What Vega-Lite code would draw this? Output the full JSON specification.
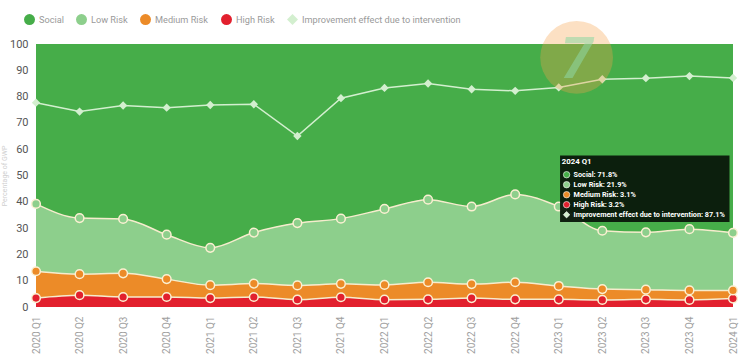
{
  "$schema": "https://vega.github.io/schema/vega-lite/v6.json",
  "width": 697,
  "height": 263,
  "autosize": {"type": "none"},
  "padding": {"left": 36, "top": 44, "right": 17, "bottom": 49},
  "background": "white",
  "config": {
    "view": {"stroke": null},
    "font": "Roboto",
    "axisX": {
      "tickCount": 16,
      "labelExpr": "['2020 Q1','2020 Q2','2020 Q3','2020 Q4','2021 Q1','2021 Q2','2021 Q3','2021 Q4','2022 Q1','2022 Q2','2022 Q3','2022 Q4','2023 Q1','2023 Q2','2023 Q3','2023 Q4','2024 Q1'][datum.value]",
      "labelAngle": 270,
      "labelColor": "#a0a0a0",
      "labelFontSize": 10,
      "labelPadding": 9,
      "domain": false,
      "ticks": false,
      "grid": true,
      "gridColor": "#ffffff",
      "gridOpacity": 0.1,
      "zindex": 1
    },
    "axisY": {
      "tickCount": 10,
      "titleFontSize": 7,
      "titleFontWeight": "normal",
      "titleColor": "#cfcfcf",
      "titlePadding": 2,
      "labelColor": "#555555",
      "labelFontSize": 11,
      "labelPadding": 8,
      "domain": false,
      "ticks": false,
      "grid": true,
      "gridColor": "#ffffff",
      "gridOpacity": 0.1,
      "zindex": 1
    },
    "legend": {
      "orient": "none",
      "legendX": -12,
      "legendY": -30,
      "direction": "horizontal",
      "columns": 5,
      "symbolSize": 120,
      "symbolStrokeWidth": 0,
      "labelFont": "Roboto",
      "labelFontSize": 9.2,
      "labelColor": "#9a9a9a",
      "labelOffset": 4,
      "labelLimit": 300,
      "columnPadding": 12
    }
  },
  "datasets": {
    "quarters": [
      {"i": 0, "q": "2020 Q1", "High Risk": 3.4, "Medium Risk": 10.2, "Low Risk": 25.6, "Social": 60.8, "Improvement": 77.7},
      {"i": 1, "q": "2020 Q2", "High Risk": 4.5, "Medium Risk": 8.0, "Low Risk": 21.3, "Social": 66.2, "Improvement": 74.3},
      {"i": 2, "q": "2020 Q3", "High Risk": 3.8, "Medium Risk": 9.0, "Low Risk": 20.7, "Social": 66.5, "Improvement": 76.6},
      {"i": 3, "q": "2020 Q4", "High Risk": 3.8, "Medium Risk": 6.8, "Low Risk": 16.9, "Social": 72.5, "Improvement": 75.8},
      {"i": 4, "q": "2021 Q1", "High Risk": 3.4, "Medium Risk": 4.9, "Low Risk": 14.2, "Social": 77.5, "Improvement": 76.8},
      {"i": 5, "q": "2021 Q2", "High Risk": 3.8, "Medium Risk": 5.1, "Low Risk": 19.4, "Social": 71.7, "Improvement": 77.1},
      {"i": 6, "q": "2021 Q3", "High Risk": 2.8, "Medium Risk": 5.4, "Low Risk": 23.7, "Social": 68.1, "Improvement": 65.0},
      {"i": 7, "q": "2021 Q4", "High Risk": 3.7, "Medium Risk": 5.1, "Low Risk": 24.8, "Social": 66.4, "Improvement": 79.4},
      {"i": 8, "q": "2022 Q1", "High Risk": 2.8, "Medium Risk": 5.6, "Low Risk": 28.9, "Social": 62.7, "Improvement": 83.3},
      {"i": 9, "q": "2022 Q2", "High Risk": 2.9, "Medium Risk": 6.5, "Low Risk": 31.4, "Social": 59.2, "Improvement": 85.0},
      {"i": 10, "q": "2022 Q3", "High Risk": 3.4, "Medium Risk": 5.3, "Low Risk": 29.5, "Social": 61.8, "Improvement": 82.8},
      {"i": 11, "q": "2022 Q4", "High Risk": 2.9, "Medium Risk": 6.5, "Low Risk": 33.4, "Social": 57.2, "Improvement": 82.2},
      {"i": 12, "q": "2023 Q1", "High Risk": 2.9, "Medium Risk": 5.1, "Low Risk": 30.2, "Social": 61.8, "Improvement": 83.5},
      {"i": 13, "q": "2023 Q2", "High Risk": 2.7, "Medium Risk": 4.1, "Low Risk": 22.2, "Social": 71.0, "Improvement": 86.6},
      {"i": 14, "q": "2023 Q3", "High Risk": 2.9, "Medium Risk": 3.7, "Low Risk": 21.8, "Social": 71.6, "Improvement": 87.0},
      {"i": 15, "q": "2023 Q4", "High Risk": 2.7, "Medium Risk": 3.6, "Low Risk": 23.3, "Social": 70.4, "Improvement": 87.8},
      {"i": 16, "q": "2024 Q1", "High Risk": 3.2, "Medium Risk": 3.1, "Low Risk": 21.9, "Social": 71.8, "Improvement": 87.1}
    ],
    "tip": [
      {"series": "Social", "label": "Social: 71.8%"},
      {"series": "Low Risk", "label": "Low Risk: 21.9%"},
      {"series": "Medium Risk", "label": "Medium Risk: 3.1%"},
      {"series": "High Risk", "label": "High Risk: 3.2%"},
      {"series": "Improvement effect due to intervention", "label": "Improvement effect due to intervention: 87.1%"}
    ]
  },
  "layer": [
    {
      "data": {"name": "quarters"},
      "transform": [
        {"fold": ["High Risk", "Medium Risk", "Low Risk", "Social"], "as": ["series", "value"]},
        {"calculate": "indexof(['High Risk','Medium Risk','Low Risk','Social'], datum.series)", "as": "ord"},
        {"stack": "value", "groupby": ["i"], "sort": [{"field": "ord", "order": "ascending"}], "as": ["y0", "y1"]}
      ],
      "mark": {"type": "area", "interpolate": "monotone", "clip": true},
      "encoding": {
        "x": {"field": "i", "type": "quantitative", "title": null, "scale": {"domain": [0, 16], "nice": false, "zero": false}},
        "y": {"field": "y1", "type": "quantitative", "title": "Percentage of GWP", "scale": {"domain": [0, 100], "nice": false}},
        "y2": {"field": "y0"},
        "color": {
          "field": "series",
          "type": "nominal",
          "title": null,
          "scale": {
            "domain": ["Social", "Low Risk", "Medium Risk", "High Risk", "Improvement effect due to intervention"],
            "range": ["#46ad49", "#8dcf8c", "#ec8b28", "#e2202e", "#d3efcf"]
          }
        }
      }
    },
    {
      "data": {"name": "quarters"},
      "transform": [
        {"fold": ["High Risk", "Medium Risk", "Low Risk"], "as": ["series", "value"]},
        {"calculate": "indexof(['High Risk','Medium Risk','Low Risk'], datum.series)", "as": "ord"},
        {"stack": "value", "groupby": ["i"], "sort": [{"field": "ord", "order": "ascending"}], "as": ["y0", "y1"]}
      ],
      "mark": {"type": "line", "interpolate": "monotone", "stroke": "#f6eccd", "strokeWidth": 1.5},
      "encoding": {
        "x": {"field": "i", "type": "quantitative", "title": null},
        "y": {"field": "y1", "type": "quantitative", "title": "Percentage of GWP"},
        "detail": {"field": "series"}
      }
    },
    {
      "data": {"name": "quarters"},
      "transform": [
        {"fold": ["High Risk", "Medium Risk", "Low Risk"], "as": ["series", "value"]},
        {"calculate": "indexof(['High Risk','Medium Risk','Low Risk'], datum.series)", "as": "ord"},
        {"stack": "value", "groupby": ["i"], "sort": [{"field": "ord", "order": "ascending"}], "as": ["y0", "y1"]}
      ],
      "mark": {"type": "point", "filled": true, "size": 75, "stroke": "#fbf0d2", "strokeWidth": 1.5, "opacity": 1},
      "encoding": {
        "x": {"field": "i", "type": "quantitative", "title": null},
        "y": {"field": "y1", "type": "quantitative", "title": "Percentage of GWP"},
        "color": {"field": "series", "type": "nominal", "title": null},
        "shape": {
          "field": "series",
          "type": "nominal",
          "title": null,
          "scale": {
            "domain": ["Social", "Low Risk", "Medium Risk", "High Risk", "Improvement effect due to intervention"],
            "range": ["circle", "circle", "circle", "circle", "diamond"]
          }
        }
      }
    },
    {
      "data": {"name": "quarters"},
      "mark": {"type": "line", "color": "#d3efcf", "strokeWidth": 1.5},
      "encoding": {
        "x": {"field": "i", "type": "quantitative", "title": null},
        "y": {"field": "Improvement", "type": "quantitative", "title": "Percentage of GWP"}
      }
    },
    {
      "data": {"name": "quarters"},
      "mark": {"type": "point", "filled": true, "size": 70, "shape": "diamond", "color": "#d3efcf", "opacity": 1},
      "encoding": {
        "x": {"field": "i", "type": "quantitative", "title": null},
        "y": {"field": "Improvement", "type": "quantitative", "title": "Percentage of GWP"}
      }
    },
    {
      "data": {"values": [{"a": 1}]},
      "mark": {"type": "point", "filled": true, "size": 5300, "color": "#f5a04a", "opacity": 0.33, "clip": false},
      "encoding": {
        "x": {"datum": 12.41, "type": "quantitative", "title": null},
        "y": {"datum": 94.9, "type": "quantitative", "title": "Percentage of GWP"}
      }
    },
    {
      "data": {"values": [{"a": 1}]},
      "mark": {"type": "text", "text": "7", "fontSize": 58, "fontWeight": "bold", "fontStyle": "italic", "color": "#8fd8a4", "opacity": 0.55, "align": "center", "baseline": "middle"},
      "encoding": {
        "x": {"datum": 12.41, "type": "quantitative", "title": null},
        "y": {"datum": 93.5, "type": "quantitative", "title": "Percentage of GWP"}
      }
    },
    {
      "data": {"values": [{"a": 1}]},
      "mark": {"type": "rect", "color": "#0a170b", "opacity": 0.95},
      "encoding": {
        "x": {"datum": 12.03, "type": "quantitative", "title": null},
        "x2": {"datum": 15.92},
        "y": {"datum": 57.6, "type": "quantitative", "title": "Percentage of GWP"},
        "y2": {"datum": 32.3}
      }
    },
    {
      "data": {"values": [{"a": 1}]},
      "mark": {"type": "text", "text": "2024 Q1", "align": "left", "baseline": "middle", "color": "white", "fontSize": 7.8, "fontWeight": "bold"},
      "encoding": {
        "x": {"datum": 12.07, "type": "quantitative", "title": null},
        "y": {"datum": 55.3, "type": "quantitative", "title": "Percentage of GWP"}
      }
    },
    {
      "data": {"name": "tip"},
      "mark": {"type": "text", "align": "left", "baseline": "middle", "color": "white", "fontSize": 7.25, "fontWeight": "bold"},
      "encoding": {
        "x": {"datum": 12.34, "type": "quantitative", "title": null},
        "y": {"datum": 50.3, "type": "quantitative", "title": "Percentage of GWP"},
        "yOffset": {"field": "series", "type": "nominal", "scale": {"type": "point", "padding": 0, "domain": ["Social", "Low Risk", "Medium Risk", "High Risk", "Improvement effect due to intervention"], "range": [0, 40]}},
        "text": {"field": "label"}
      }
    },
    {
      "data": {"name": "tip"},
      "mark": {"type": "point", "filled": true, "size": 42, "stroke": "#ffffff", "strokeWidth": 0.6, "opacity": 1},
      "encoding": {
        "x": {"datum": 12.18, "type": "quantitative", "title": null},
        "y": {"datum": 50.3, "type": "quantitative", "title": "Percentage of GWP"},
        "yOffset": {"field": "series", "type": "nominal", "scale": {"type": "point", "padding": 0, "domain": ["Social", "Low Risk", "Medium Risk", "High Risk", "Improvement effect due to intervention"], "range": [0, 40]}},
        "color": {"field": "series", "type": "nominal", "title": null},
        "shape": {"field": "series", "type": "nominal", "title": null}
      }
    }
  ]
}
